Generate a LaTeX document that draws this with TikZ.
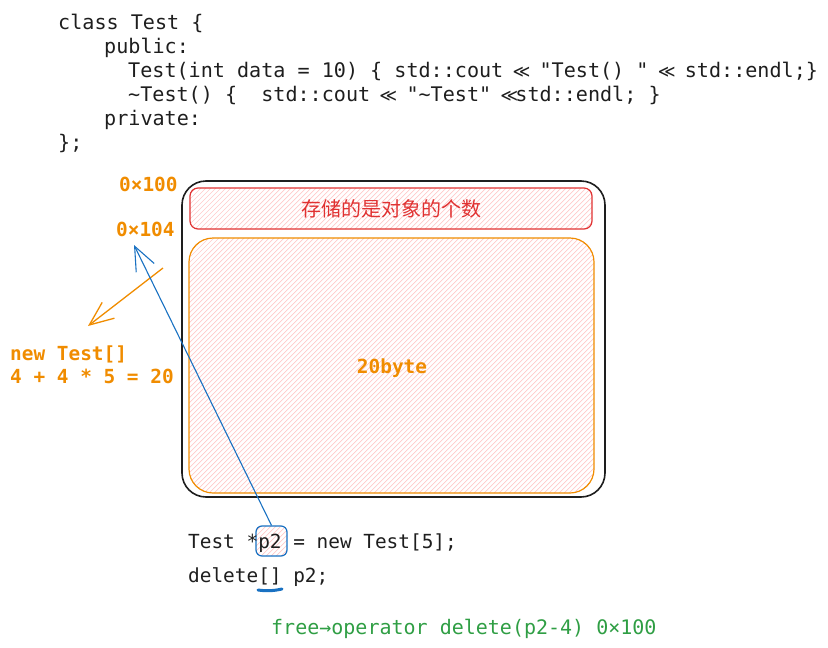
\documentclass[tikz,border=0pt]{standalone}
\usepackage{fontspec}
\setmonofont{DejaVu Sans Mono}
\newfontfamily\cjk{Noto Sans CJK SC}
\newfontfamily\dejavu{DejaVu Sans}
\usetikzlibrary{arrows.meta,calc}

\definecolor{inkblack}{HTML}{1E1E1E}
\definecolor{inkred}{HTML}{E03131}
\definecolor{inkorange}{HTML}{F08C00}
\definecolor{inkblue}{HTML}{1971C2}
\definecolor{inkgreen}{HTML}{2F9E44}
\definecolor{hatchpink}{HTML}{FFC9C9}

% the << ligature, kept to one monospace cell
\newcommand{\shl}{\makebox[0.602em]{\dejavu\fontsize{17}{20}\selectfont ≪}}

\tikzset{
	code/.style={font=\ttfamily\fontsize{19.4}{23}\selectfont, text=inkblack, anchor=base west, inner sep=0pt},
	classcode/.style={code, font=\ttfamily\fontsize{20.1}{24}\selectfont, text height=15pt, text depth=4pt},
	note/.style={code, text=inkorange, font=\ttfamily\bfseries\fontsize{19.4}{23}\selectfont},
	hatched/.style={path picture={
		\foreach \i in {-460,-455,...,460}
			\draw[hatchpink, line width=0.7pt] ($(path picture bounding box.south west)+(\i pt,0pt)$) -- ++(460pt,460pt);}},
	membox/.style={draw, inner sep=0pt},
	sketcharrow/.style={-{Straight Barb[length=24pt,width=20pt]}, line width=1.3pt}
}

\begin{document}
\begin{tikzpicture}[x=1pt, y=-1pt]
		\useasboundingbox (0,0) rectangle (828,648);
		
		% class definition
		\node[classcode] (cls) at (58,29) {class Test \{};
		\node[classcode] (pub) at (104,53) {public:};
		\node[classcode] (ctor) at (128,77) {Test(int data = 10) \{ std::cout \shl{} "Test() " \shl{} std::endl;\}};
		\node[classcode] (dtor) at (128,101) {\string~Test() \{ \ std::cout \shl{} "\string~Test" \shl{}std::endl; \}};
		\node[classcode] (priv) at (104,125) {private:};
		\node[classcode] (clsend) at (58,149) {\};};
		
		% memory block
		\node[membox, draw=inkblack, line width=1.6pt, rounded corners=24pt, minimum width=423pt, minimum height=316pt] (block) at (393.5,339) {};
		\node[membox, hatched, draw=inkred, line width=1.2pt, rounded corners=8pt, minimum width=402pt, minimum height=41pt, text=inkred, font=\cjk\fontsize{20}{24}\selectfont] (count) at (391,208.5) {存储的是对象的个数};
		\node[membox, hatched, draw=inkorange, line width=1.2pt, rounded corners=24pt, minimum width=405pt, minimum height=255pt] (objs) at (391.5,365.5) {};
		\node[note, anchor=base] (bytes) at (392,373) {20byte};
		
		\node[note] (addr0) at (119,191) {0×100};
		\node[note] (addr4) at (116,236) {0×104};
		\node[note] (newarr) at (10,360) {new Test[]};
		\node[note] (size) at (10,383) {4 + 4 * 5 = 20};
		
		% usage
		\node[membox, hatched, draw=inkblue, line width=1.2pt, rounded corners=6pt, minimum width=31pt, minimum height=30pt] (p2box) at (271.5,541) {};
		\node[code] (alloc) at (188,548) {Test *p2 = new Test[5];};
		\node[code] (free) at (188,582) {delete[] p2;};
		\node[code, text=inkgreen, font=\ttfamily\fontsize{20}{24}\selectfont] (opdel) at (271,634) {free→operator delete(p2-4) 0×100};
		
		\coordinate (ostart) at (163,268);
		\coordinate (oend) at (88,326);
		\coordinate (ptrtip) at (134,245);
		\coordinate (ulstart) at (258,590);
		\coordinate (ulend) at (282,589);
		
		\path[sketcharrow, inkorange] (ostart) edge (oend);
		\path[sketcharrow, inkblue, line width=1.1pt] (p2box.north) edge (ptrtip);
		\draw[inkblue, line width=3pt, line cap=round] (ulstart) to[bend right=10] (ulend);
\end{tikzpicture}
\end{document}
